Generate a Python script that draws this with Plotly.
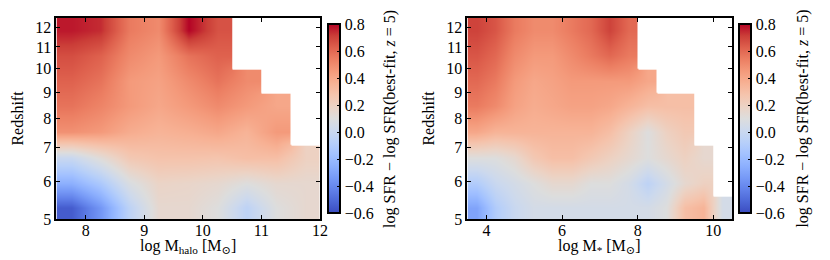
import numpy as np
import plotly.graph_objects as go

# redshift bin edges (shared by both panels)
z_edges = [5.0, 5.6, 6.3, 7.1, 8.0, 9.0, 10.0, 11.2, 12.5]
z_ticks = [5, 6, 7, 8, 9, 10, 11, 12]

# left panel: halo mass bins (centres)
mhalo = [7.75, 8.25, 8.75, 9.25, 9.75, 10.25, 10.75, 11.25, 11.75]
dsfr_halo = [
    [-0.55, -0.35, -0.05, 0.15, 0.15, 0.10, -0.05, 0.10, 0.15],
    [-0.25, -0.12, 0.08, 0.18, 0.17, 0.15, 0.10, 0.15, 0.15],
    [0.00, 0.12, 0.25, 0.28, 0.28, 0.27, 0.30, 0.30, 0.20],
    [0.48, 0.45, 0.38, 0.35, 0.37, 0.40, 0.35, 0.45, None],
    [0.57, 0.52, 0.45, 0.40, 0.45, 0.50, 0.45, 0.40, None],
    [0.62, 0.57, 0.45, 0.42, 0.50, 0.57, 0.50, None, None],
    [0.67, 0.62, 0.50, 0.45, 0.57, 0.62, None, None, None],
    [0.77, 0.74, 0.55, 0.50, 0.80, 0.66, None, None, None],
]

# right panel: stellar mass bins (centres)
mstar = [3.75, 4.25, 4.75, 5.25, 5.75, 6.25, 6.75, 7.25, 7.75, 8.25, 8.75, 9.25, 9.75, 10.25]
dsfr_star = [
    [-0.30, -0.10, 0.00, 0.05, 0.05, 0.05, 0.05, 0.05, 0.05, 0.05, 0.10, 0.30, 0.35, 0.05],
    [-0.10, 0.00, 0.05, 0.10, 0.15, 0.15, 0.10, 0.10, 0.05, -0.05, 0.05, 0.15, 0.20, None],
    [0.10, 0.10, 0.15, 0.25, 0.30, 0.30, 0.25, 0.20, 0.15, 0.10, 0.15, 0.20, 0.15, None],
    [0.40, 0.35, 0.35, 0.35, 0.35, 0.35, 0.35, 0.30, 0.20, 0.10, 0.20, 0.25, None, None],
    [0.55, 0.50, 0.42, 0.38, 0.40, 0.42, 0.42, 0.40, 0.35, 0.30, 0.30, 0.30, None, None],
    [0.60, 0.55, 0.45, 0.40, 0.42, 0.45, 0.45, 0.45, 0.45, 0.40, None, None, None, None],
    [0.65, 0.60, 0.50, 0.45, 0.45, 0.50, 0.55, 0.60, 0.55, None, None, None, None, None],
    [0.70, 0.65, 0.55, 0.50, 0.50, 0.55, 0.60, 0.70, 0.60, None, None, None, None, None],
]

cb_ticks = [-0.6, -0.4, -0.2, 0.0, 0.2, 0.4, 0.6, 0.8]
cb_title = "log SFR − log SFR(best-fit, <i>z</i> = 5)"
x_titles = ["log M<sub>halo</sub> [M<sub>⊙</sub>]", "log M<sub>*</sub> [M<sub>⊙</sub>]"]

# matplotlib coolwarm
coolwarm_rgb = [
    (59, 76, 192), (77, 104, 215), (98, 130, 234), (119, 154, 247), (141, 176, 254),
    (163, 194, 255), (184, 208, 249), (204, 217, 238), (221, 221, 221), (236, 211, 197),
    (245, 196, 173), (247, 177, 148), (244, 154, 123), (236, 127, 99), (222, 96, 77),
    (203, 62, 56), (180, 4, 38),
]
coolwarm = [[i / (len(coolwarm_rgb) - 1), "rgb(%d,%d,%d)" % c] for i, c in enumerate(coolwarm_rgb)]

FONT = "'Liberation Serif', 'Times New Roman', 'DejaVu Serif', serif"
FS = 16
ly_edges = np.log10(1 + np.array(z_edges))


def add_panel(fig, xs, vals, xaxis, yaxis, cb_x):
    arr = np.array(vals, dtype=float)
    fig.add_trace(go.Heatmap(
        x=xs, y=ly_edges, z=arr, xaxis=xaxis, yaxis=yaxis,
        colorscale=coolwarm, zmin=-0.6, zmax=0.8, zsmooth="best",
        colorbar=dict(
            x=cb_x, xanchor="left", y=0.5596, yanchor="middle",
            len=209, lenmode="pixels", thickness=12, xpad=0,
            outlinewidth=2, outlinecolor="black",
            ticks="inside", ticklen=4, tickcolor="black",
            tickvals=cb_ticks, tickformat=".1f",
            tickfont=dict(family=FONT, size=FS, color="black"),
        ),
    ))
    # masked (empty) bins drawn white on top
    mask = np.where(np.isnan(arr), 1.0, np.nan)
    fig.add_trace(go.Heatmap(
        x=xs, y=ly_edges, z=mask, xaxis=xaxis, yaxis=yaxis,
        colorscale=[[0, "white"], [1, "white"]], showscale=False,
        zsmooth=False, hoverinfo="skip",
    ))


fig = go.Figure()
add_panel(fig, mhalo, dsfr_halo, "x", "y", 0.389)
add_panel(fig, mstar, dsfr_star, "x2", "y2", 0.889)

for xpos in [0.464, 0.966]:
    fig.add_annotation(text=cb_title, xref="paper", yref="paper", x=xpos, y=0.5596,
                       textangle=-90, showarrow=False, xanchor="center", yanchor="middle",
                       font=dict(family=FONT, size=FS, color="black"))
for xpos, t in zip([0.2193, 0.720], x_titles):
    fig.add_annotation(text=t, xref="paper", yref="paper", x=xpos, y=0.048,
                       showarrow=False, xanchor="center", yanchor="middle",
                       font=dict(family=FONT, size=FS, color="black"))

axis_style = dict(
    showline=True, linewidth=2, linecolor="black", mirror="allticks",
    ticks="inside", ticklen=4, tickwidth=1, tickcolor="black",
    showgrid=False, zeroline=False,
    tickfont=dict(family=FONT, size=FS, color="black"),
    title_font=dict(family=FONT, size=FS, color="black"),
)

ytickvals = list(np.log10(1 + np.array(z_ticks)))
ytext = [str(z) for z in z_ticks]
yrange = [np.log10(6.0), np.log10(13.5)]

fig.update_layout(
    width=830, height=260,
    margin=dict(l=0, r=0, t=0, b=0),
    paper_bgcolor="white", plot_bgcolor="white",
    showlegend=False,
    font=dict(family=FONT, size=FS, color="black"),
    xaxis=dict(domain=[0.059, 0.3795], range=[7.5, 12], tickvals=[8, 9, 10, 11, 12],
               ticklabelstandoff=-5, **axis_style),
    yaxis=dict(domain=[0.158, 0.9615], range=yrange, tickvals=ytickvals, ticktext=ytext,
               title=dict(text="Redshift", standoff=8), **axis_style),
    xaxis2=dict(domain=[0.559, 0.881], range=[3.5, 10.5], tickvals=[4, 6, 8, 10],
                ticklabelstandoff=-5, anchor="y2", **axis_style),
    yaxis2=dict(domain=[0.158, 0.9615], range=yrange, tickvals=ytickvals, ticktext=ytext,
                anchor="x2", title=dict(text="Redshift", standoff=8), **axis_style),
)

fig.write_html("out.html")
